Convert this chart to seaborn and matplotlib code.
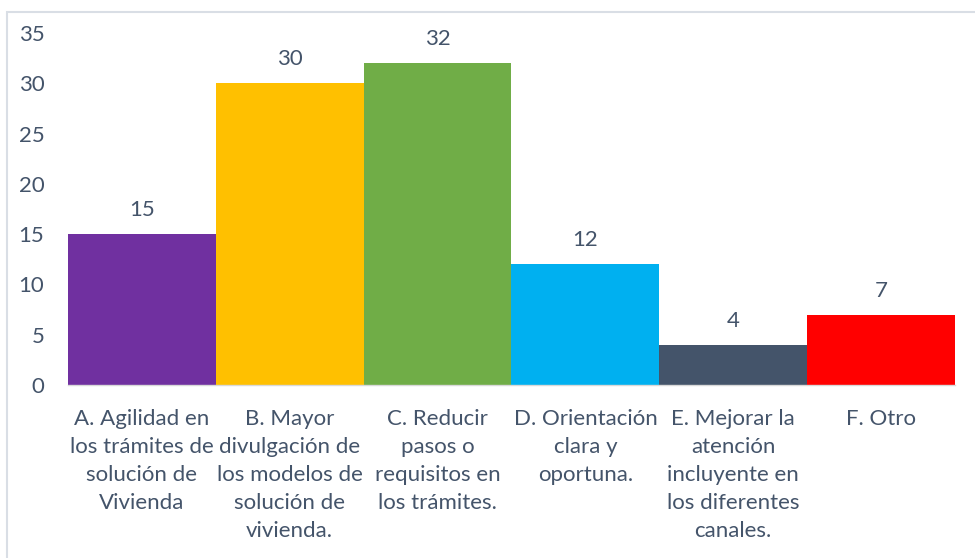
import matplotlib
matplotlib.use("Agg")
import matplotlib.pyplot as plt
import seaborn as sns
import pandas as pd
from matplotlib.patches import Rectangle

categories = [
    "A. Agilidad en\nlos trámites de\nsolución de\nVivienda",
    "B. Mayor\ndivulgación de\nlos modelos de\nsolución de\nvivienda.",
    "C. Reducir\npasos o\nrequisitos en\nlos trámites.",
    "D. Orientación\nclara y\noportuna.",
    "E. Mejorar la\natención\nincluyente en\nlos diferentes\ncanales.",
    "F. Otro",
]
values = [15, 30, 32, 12, 4, 7]
colors = ["#7030A0", "#FFC000", "#70AD47", "#00B0F0", "#44546A", "#FF0000"]
yticks = [0, 5, 10, 15, 20, 25, 30, 35]

sns.set_theme(style="white")
plt.rcParams["font.family"] = ["Lato", "DejaVu Sans"]
text_color = "#44546A"

df = pd.DataFrame({"cat": categories, "val": values})

fig = plt.figure(figsize=(9.75, 5.58), dpi=100)
ax = fig.add_axes([68/975, 1-385/558, (955-68)/975, (385-33)/558])

sns.barplot(data=df, x="cat", y="val", hue="cat", palette=colors,
            width=1.0, dodge=False, legend=False, ax=ax, saturation=1,
            linewidth=0)

ax.set_ylim(0, 35)
ax.set_yticks(yticks)
ax.set_xlim(-0.5, len(categories) - 0.5)
ax.set_xlabel("")
ax.set_ylabel("")
for s in ["top", "right", "left"]:
    ax.spines[s].set_visible(False)
ax.spines["bottom"].set_color("#D9D9D9")
ax.spines["bottom"].set_linewidth(1.0)
ax.tick_params(axis="y", length=0, pad=17, labelsize=16, labelcolor=text_color)
ax.tick_params(axis="x", length=0, pad=17, labelsize=16, labelcolor=text_color)
for lbl in ax.get_xticklabels():
    lbl.set_linespacing(1.5)
    lbl.set_verticalalignment("top")

for i, v in enumerate(values):
    ax.annotate(str(v), (i, v), xytext=(0, 10), textcoords="offset points",
                ha="center", va="bottom", fontsize=16, color=text_color)

fig.patches.append(Rectangle((7/975, -0.1), 1.2, 1.1 - 12/558,
                             transform=fig.transFigure, fill=False,
                             edgecolor="#D9DEE5", linewidth=1.5, zorder=10))

fig.savefig("out.png", dpi=100)
